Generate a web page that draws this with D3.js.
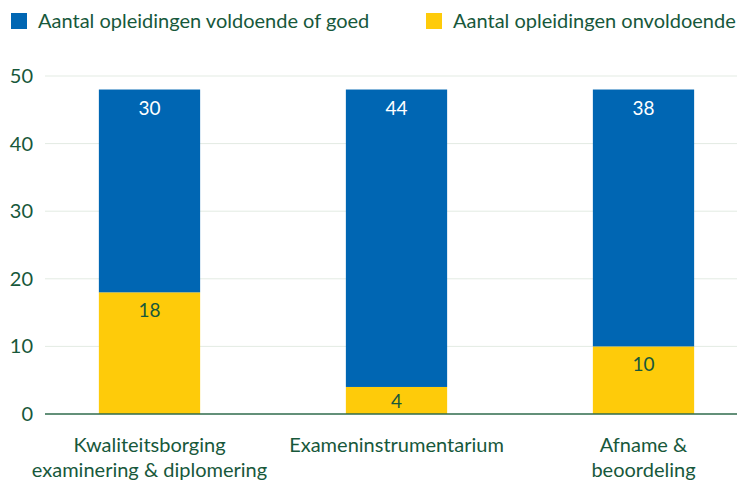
<!DOCTYPE html>
<html lang="nl">
<head>
<meta charset="utf-8">
<title>Opleidingen</title>
<script src="https://d3js.org/d3.v7.min.js"></script>
<style>
  body { margin: 0; background: #fff; }
  text { font-family: Lato, "Open Sans", sans-serif; }
</style>
</head>
<body>
<script>
var w = 737, h = 481;

var categories = [
  ["Kwaliteitsborging", "examinering & diplomering"],
  ["Exameninstrumentarium"],
  ["Afname &", "beoordeling"]
];
var onvoldoende = [18, 4, 10];
var voldoende = [30, 44, 38];
var seriesNames = ["Aantal opleidingen voldoende of goed", "Aantal opleidingen onvoldoende"];
var yTicks = [0, 10, 20, 30, 40, 50];

var blue = "#0066b3", yellow = "#fecb0a", green = "#17583b";

var svg = d3.select("body").append("svg")
  .attr("width", w).attr("height", h);

var keys = categories.map(function(c, i) { return "c" + i; });

var x = d3.scaleBand()
  .domain(keys)
  .range([26, 767])
  .paddingInner(0.59)
  .paddingOuter(0.295);

var y = d3.scaleLinear()
  .domain([0, 50])
  .range([414, 76]);

// light gridlines
svg.selectAll("line.grid")
  .data(yTicks.slice(1))
  .enter().append("line")
  .attr("class", "grid")
  .attr("x1", 45).attr("x2", w)
  .attr("y1", function(d) { return y(d); })
  .attr("y2", function(d) { return y(d); })
  .attr("stroke", "#e3ebe3").attr("stroke-width", 1);

// y axis labels
var yAxis = d3.axisLeft(y).tickValues(yTicks).tickSize(0).tickPadding(12);
var ya = svg.append("g").attr("transform", "translate(45,0)").call(yAxis);
ya.select(".domain").remove();
ya.selectAll("text")
  .attr("fill", green)
  .style("font-size", "20px")
  .style("font-family", "Lato, sans-serif");

// stacked bars
var data = keys.map(function(k, i) {
  return { key: k, low: onvoldoende[i], high: voldoende[i] };
});

svg.selectAll("rect.low")
  .data(data).enter().append("rect")
  .attr("x", function(d) { return x(d.key); })
  .attr("width", x.bandwidth())
  .attr("y", function(d) { return y(d.low); })
  .attr("height", function(d) { return y(0) - y(d.low); })
  .attr("fill", yellow);

svg.selectAll("rect.high")
  .data(data).enter().append("rect")
  .attr("x", function(d) { return x(d.key); })
  .attr("width", x.bandwidth())
  .attr("y", function(d) { return y(d.low + d.high); })
  .attr("height", function(d) { return y(d.low) - y(d.low + d.high); })
  .attr("fill", blue);

// value labels at inside end
svg.selectAll("text.vh")
  .data(data).enter().append("text")
  .attr("x", function(d) { return x(d.key) + x.bandwidth() / 2; })
  .attr("y", function(d) { return y(d.low + d.high) + 25; })
  .attr("text-anchor", "middle")
  .attr("fill", "#fff")
  .style("font-size", "19px")
  .text(function(d) { return d.high; });

svg.selectAll("text.vl")
  .data(data).enter().append("text")
  .attr("x", function(d) { return x(d.key) + x.bandwidth() / 2; })
  .attr("y", function(d) { return Math.min(y(d.low) + 25, y(0) - 6); })
  .attr("text-anchor", "middle")
  .attr("fill", green)
  .style("font-size", "19px")
  .text(function(d) { return d.low; });

// x axis line
svg.append("line")
  .attr("x1", 45).attr("x2", w)
  .attr("y1", y(0)).attr("y2", y(0))
  .attr("stroke", "#2f6b4c").attr("stroke-width", 1.3);

// category labels
var cat = svg.selectAll("text.cat")
  .data(categories).enter().append("text")
  .attr("text-anchor", "middle")
  .attr("fill", green)
  .style("font-size", "20px")
  .attr("transform", function(d, i) {
    return "translate(" + (x(keys[i]) + x.bandwidth() / 2) + ",452)";
  });
cat.selectAll("tspan")
  .data(function(d) { return d; })
  .enter().append("tspan")
  .attr("x", 0)
  .attr("dy", function(d, i) { return i ? 25 : 0; })
  .text(function(d) { return d; });

// legend
var legX = [11, 426];
var leg = svg.selectAll("g.leg")
  .data(seriesNames).enter().append("g")
  .attr("transform", function(d, i) { return "translate(" + legX[i] + ",0)"; });
leg.append("rect")
  .attr("x", 0).attr("y", 13).attr("width", 16).attr("height", 16)
  .attr("fill", function(d, i) { return i ? yellow : blue; });
leg.append("text")
  .attr("x", 27).attr("y", 28)
  .attr("fill", green)
  .style("font-size", "20px")
  .text(function(d) { return d; });
</script>
</body>
</html>
